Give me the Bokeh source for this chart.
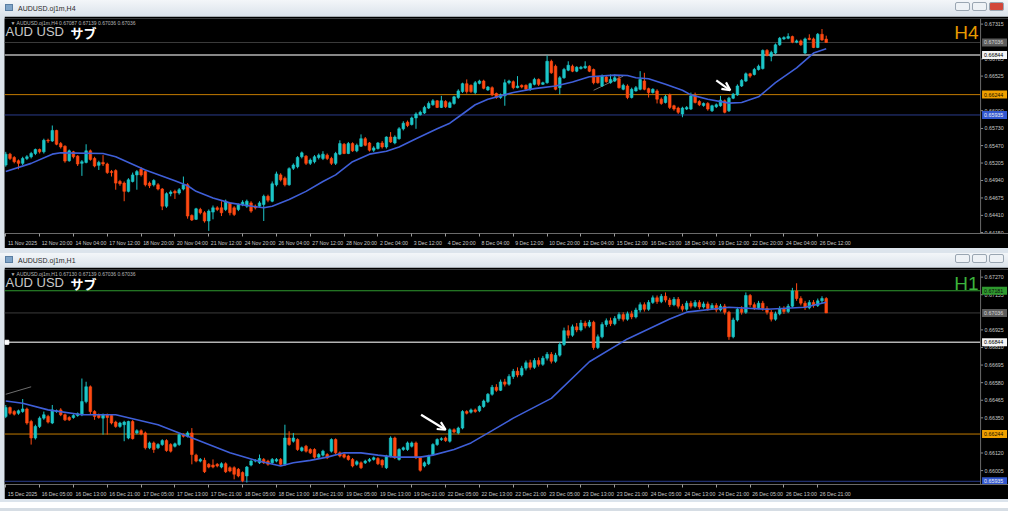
from bokeh.plotting import figure
from bokeh.models import (Range1d, FixedTicker, Span, Label, Arrow, OpenHead,
                          ColumnDataSource, Div)
from bokeh.layouts import column
from bokeh.embed import file_html
from bokeh.resources import INLINE
from bokeh.core.properties import value

# ---------------- H4 data ----------------
h4_open = [
    0.65175, 0.6534, 0.6529, 0.6524, 0.652, 0.65275, 0.653, 0.6535, 0.6541, 0.65375,
    0.6555, 0.6554, 0.657, 0.655, 0.6546, 0.6524, 0.65375, 0.6531, 0.652, 0.65215,
    0.6539, 0.65275, 0.6517, 0.65215, 0.6519, 0.65075, 0.6509, 0.64925, 0.649, 0.64775,
    0.64925, 0.65025, 0.6511, 0.65075, 0.649, 0.64875, 0.64875, 0.6481, 0.6455, 0.6474,
    0.64775, 0.6475, 0.6481, 0.64875, 0.6441, 0.6435, 0.645, 0.6445, 0.64325, 0.6446,
    0.64525, 0.64525, 0.645, 0.646, 0.64525, 0.645, 0.6457, 0.6455, 0.646, 0.6455,
    0.6455, 0.64575, 0.647, 0.64625, 0.64875, 0.65025, 0.64975, 0.64875, 0.65125, 0.6515,
    0.653, 0.6531, 0.652, 0.65225, 0.6529, 0.65275, 0.65325, 0.65275, 0.652, 0.6534,
    0.6549, 0.6535, 0.655, 0.6539, 0.6546, 0.65575, 0.6551, 0.654, 0.65425, 0.6551,
    0.6545, 0.656, 0.6551, 0.65575, 0.65725, 0.65825, 0.6579, 0.6589, 0.6594, 0.65965,
    0.6604, 0.6609, 0.6615, 0.6605, 0.6614, 0.6605, 0.6611, 0.662, 0.6629, 0.6641,
    0.66385, 0.66275, 0.66415, 0.6645, 0.66315, 0.6635, 0.6626, 0.662, 0.66225, 0.66425,
    0.6644, 0.6635, 0.66385, 0.66385, 0.66325, 0.664, 0.66475, 0.664, 0.66425, 0.6675,
    0.66675, 0.6635, 0.665, 0.66615, 0.66675, 0.666, 0.6664, 0.6665, 0.66675, 0.66625,
    0.6651, 0.66375, 0.6651, 0.66425, 0.6645, 0.66485, 0.66325, 0.66375, 0.662, 0.663,
    0.66325, 0.6645, 0.66335, 0.66275, 0.663, 0.66175, 0.66125, 0.6624, 0.66075, 0.6604,
    0.6595, 0.66025, 0.66025, 0.66225, 0.6614, 0.6608, 0.6611, 0.66, 0.6606, 0.66075,
    0.6615, 0.66, 0.6619, 0.6624, 0.66375, 0.6645, 0.6656, 0.6655, 0.66625, 0.6664,
    0.66915, 0.66825, 0.66875, 0.67, 0.6709, 0.671, 0.67125, 0.6704, 0.6706, 0.66875,
    0.671, 0.6709, 0.6696, 0.6716, 0.67087,
]
h4_close = [
    0.6534, 0.65275, 0.65225, 0.652, 0.65275, 0.653, 0.6535, 0.6541, 0.65375, 0.6555,
    0.6554, 0.657, 0.6549, 0.6545, 0.65235, 0.6539, 0.653, 0.6519, 0.65225, 0.6539,
    0.6526, 0.6516, 0.65215, 0.6519, 0.6506, 0.6506, 0.649, 0.6489, 0.64775, 0.6495,
    0.65025, 0.65075, 0.65025, 0.64875, 0.6486, 0.6494, 0.6481, 0.6455, 0.6474, 0.64765,
    0.6475, 0.648, 0.64875, 0.644, 0.6434, 0.6451, 0.6445, 0.64325, 0.64475, 0.64525,
    0.645, 0.6445, 0.64625, 0.6445, 0.64425, 0.6457, 0.6461, 0.64625, 0.64475, 0.64525,
    0.646, 0.647, 0.6464, 0.6489, 0.6504, 0.6495, 0.64875, 0.6512, 0.65175, 0.6529,
    0.6536, 0.652, 0.6525, 0.653, 0.65325, 0.6534, 0.65275, 0.652, 0.6535, 0.655,
    0.6535, 0.655, 0.6539, 0.65475, 0.65575, 0.65475, 0.654, 0.65435, 0.6551, 0.6545,
    0.656, 0.65525, 0.656, 0.65725, 0.6581, 0.65775, 0.6589, 0.6595, 0.65975, 0.6605,
    0.6611, 0.6615, 0.6605, 0.6615, 0.6606, 0.6612, 0.6621, 0.663, 0.6641, 0.6629,
    0.6629, 0.66425, 0.6645, 0.6634, 0.6636, 0.6624, 0.662, 0.6624, 0.66425, 0.6645,
    0.6635, 0.66375, 0.6636, 0.66325, 0.6641, 0.66475, 0.664, 0.66425, 0.6675, 0.66575,
    0.66325, 0.665, 0.66625, 0.6669, 0.666, 0.6666, 0.6666, 0.66675, 0.666, 0.66425,
    0.66425, 0.66525, 0.6644, 0.66475, 0.665, 0.6635, 0.66385, 0.662, 0.66325, 0.6635,
    0.66475, 0.66325, 0.66275, 0.66325, 0.66175, 0.6611, 0.66215, 0.6605, 0.66025, 0.65975,
    0.6604, 0.6605, 0.66225, 0.66125, 0.6609, 0.6611, 0.66025, 0.66075, 0.6609, 0.6616,
    0.65975, 0.6619, 0.6625, 0.66375, 0.6646, 0.6656, 0.66525, 0.66625, 0.66675, 0.66915,
    0.6684, 0.66885, 0.67, 0.671, 0.6711, 0.67125, 0.6704, 0.6706, 0.67, 0.6709,
    0.6708, 0.6696, 0.6716, 0.67075, 0.67036,
]
h4_high = [
    0.65375, 0.6536, 0.6531, 0.6526, 0.653, 0.65325, 0.65375, 0.65425, 0.65425, 0.65575,
    0.65575, 0.65775, 0.6571, 0.65525, 0.65475, 0.6541, 0.6539, 0.65325, 0.6525, 0.6549,
    0.6541, 0.653, 0.6524, 0.65325, 0.6521, 0.651, 0.6511, 0.6495, 0.64925, 0.64975,
    0.6506, 0.651, 0.6514, 0.6509, 0.64925, 0.6496, 0.649, 0.64825, 0.6476, 0.6479,
    0.648, 0.64825, 0.65, 0.649, 0.64425, 0.64525, 0.64525, 0.64475, 0.645, 0.6456,
    0.6455, 0.64625, 0.6465, 0.6461, 0.6455, 0.6459, 0.6464, 0.6465, 0.64625, 0.64575,
    0.64625, 0.64725, 0.64725, 0.64925, 0.65075, 0.6505, 0.65, 0.6514, 0.652, 0.6531,
    0.6538, 0.65325, 0.65275, 0.65325, 0.6535, 0.65385, 0.6535, 0.653, 0.65375, 0.6555,
    0.6551, 0.65525, 0.6552, 0.655, 0.6564, 0.656, 0.65525, 0.6546, 0.65525, 0.6554,
    0.6561, 0.65675, 0.65625, 0.6575, 0.6584, 0.6585, 0.6591, 0.65975, 0.66, 0.66075,
    0.6614, 0.66175, 0.6616, 0.66225, 0.6616, 0.6614, 0.66225, 0.66325, 0.66425, 0.66475,
    0.664, 0.6645, 0.6647, 0.6647, 0.66375, 0.6637, 0.66275, 0.6626, 0.66475, 0.6647,
    0.6646, 0.66525, 0.664, 0.664, 0.66425, 0.665, 0.6649, 0.6644, 0.6684, 0.66775,
    0.667, 0.66525, 0.6665, 0.6675, 0.667, 0.66675, 0.6668, 0.6675, 0.6669, 0.6664,
    0.66525, 0.6655, 0.66525, 0.6655, 0.6655, 0.6654, 0.6641, 0.664, 0.6635, 0.66375,
    0.666, 0.66575, 0.6635, 0.6634, 0.66325, 0.662, 0.6624, 0.6626, 0.6609, 0.6606,
    0.6606, 0.6607, 0.66275, 0.66275, 0.6616, 0.66125, 0.6613, 0.6609, 0.6611, 0.66225,
    0.6617, 0.6621, 0.6627, 0.664, 0.6648, 0.6658, 0.66575, 0.6665, 0.667, 0.6693,
    0.66935, 0.6691, 0.6702, 0.6712, 0.6713, 0.67175, 0.6714, 0.6708, 0.6708, 0.6711,
    0.6716, 0.6711, 0.6718, 0.6724, 0.67139,
]
h4_low = [
    0.6515, 0.6525, 0.652, 0.6511, 0.65175, 0.6525, 0.65275, 0.65325, 0.6535, 0.6535,
    0.6551, 0.65525, 0.65475, 0.65425, 0.6521, 0.65225, 0.65275, 0.6516, 0.6501, 0.652,
    0.6524, 0.6514, 0.651, 0.6516, 0.6504, 0.65, 0.648, 0.6486, 0.64625, 0.6476,
    0.6491, 0.648, 0.65, 0.6485, 0.64825, 0.6485, 0.6479, 0.6449, 0.64525, 0.647,
    0.6466, 0.64725, 0.6479, 0.6436, 0.64325, 0.6434, 0.64425, 0.643, 0.64175, 0.6435,
    0.64475, 0.644, 0.64475, 0.6441, 0.644, 0.64475, 0.6455, 0.64525, 0.6445, 0.645,
    0.64525, 0.64325, 0.6461, 0.6461, 0.6485, 0.64925, 0.6485, 0.6486, 0.651, 0.65125,
    0.65275, 0.65175, 0.65175, 0.652, 0.6526, 0.6525, 0.6525, 0.65175, 0.65175, 0.65325,
    0.6534, 0.6534, 0.65375, 0.6537, 0.6545, 0.6546, 0.6538, 0.65375, 0.6541, 0.65425,
    0.65425, 0.6551, 0.6549, 0.6556, 0.657, 0.6575, 0.65775, 0.65725, 0.65925, 0.6595,
    0.66025, 0.66075, 0.6604, 0.6604, 0.6604, 0.6604, 0.6609, 0.6618, 0.6627, 0.6626,
    0.6627, 0.6625, 0.664, 0.66325, 0.663, 0.6622, 0.6618, 0.6618, 0.66075, 0.664,
    0.66325, 0.6634, 0.6634, 0.6631, 0.663, 0.66385, 0.66375, 0.6639, 0.6641, 0.6656,
    0.6631, 0.6625, 0.66485, 0.666, 0.66585, 0.66585, 0.66625, 0.66635, 0.66585, 0.664,
    0.6641, 0.6636, 0.66425, 0.6641, 0.66435, 0.66335, 0.6631, 0.66175, 0.66185, 0.6629,
    0.6631, 0.6631, 0.662, 0.6626, 0.6611, 0.6609, 0.6611, 0.66025, 0.66, 0.6595,
    0.659, 0.6601, 0.6601, 0.6611, 0.6607, 0.6606, 0.66, 0.6598, 0.6604, 0.6606,
    0.6596, 0.6598, 0.66175, 0.66225, 0.6636, 0.66435, 0.665, 0.66535, 0.6661, 0.66625,
    0.66825, 0.6675, 0.6686, 0.66985, 0.67075, 0.67085, 0.67025, 0.67025, 0.66985, 0.6686,
    0.6707, 0.6695, 0.6695, 0.6706, 0.67036,
]
h4_ma_bar = [0, 6, 11, 13, 23, 26, 33, 40, 43, 45, 49, 53, 57, 61, 63, 67, 71, 75, 78, 82,
             86, 90, 93, 97, 102, 105, 108, 111, 114, 117, 120, 125, 130, 134, 138, 144, 147, 149, 152, 156,
             160, 162, 166, 171, 174, 178, 182, 187, 191, 194]
h4_ma = [0.65075, 0.6520, 0.6534, 0.6536, 0.6535, 0.6530, 0.6510, 0.64935, 0.6486, 0.64775,
         0.64675, 0.6460, 0.6456, 0.64525, 0.6455, 0.6465, 0.64775, 0.64925, 0.65025, 0.65225,
         0.6534, 0.65385, 0.6545, 0.65575, 0.65725, 0.6581, 0.6595, 0.6609, 0.66175, 0.66225,
         0.66275, 0.66335, 0.66375, 0.66435, 0.66515, 0.6654, 0.66535, 0.665, 0.66485, 0.664,
         0.6631, 0.6624, 0.66175, 0.66115, 0.66125, 0.6621, 0.66425, 0.6665, 0.66875, 0.6694]
h4_time_labels = ["11 Nov 2025", "12 Nov 20:00", "14 Nov 04:00", "17 Nov 12:00", "18 Nov 20:00",
                  "20 Nov 04:00", "21 Nov 12:00", "24 Nov 20:00", "26 Nov 04:00", "27 Nov 12:00",
                  "28 Nov 20:00", "2 Dec 04:00", "3 Dec 12:00", "4 Dec 20:00", "8 Dec 04:00",
                  "9 Dec 12:00", "10 Dec 20:00", "12 Dec 04:00", "15 Dec 12:00", "16 Dec 20:00",
                  "18 Dec 04:00", "19 Dec 12:00", "22 Dec 20:00", "24 Dec 04:00", "26 Dec 12:00"]
h4_price_ticks = [0.67315, 0.66785, 0.66525, 0.66000, 0.65730, 0.65470, 0.65205, 0.64940,
                  0.64675, 0.64410, 0.64150]
h4_levels = [0.67036, 0.66844, 0.66244, 0.65935]
h4_trend_bar = [139, 146]
h4_trend_price = [0.6631, 0.66525]
h4_arrow_bar = [168.0, 171.3]
h4_arrow_price = [0.6646, 0.6631]
h4_header = "\u25bc AUDUSD.oj1m,H4  0.67087 0.67139 0.67036 0.67036"

# ---------------- H1 data ----------------
h1_open = [
    0.66359, 0.66417, 0.66391, 0.6638, 0.66391, 0.66408, 0.66326, 0.66218, 0.66294, 0.66348,
    0.66359, 0.66316, 0.66391, 0.66402, 0.6637, 0.66352, 0.66352, 0.66365, 0.6637, 0.66456,
    0.66553, 0.66391, 0.6637, 0.66348, 0.6637, 0.66365, 0.66322, 0.66294, 0.66305, 0.66218,
    0.66326, 0.66251, 0.66266, 0.66251, 0.66154, 0.66186, 0.66154, 0.66175, 0.66201, 0.66175,
    0.66164, 0.66175, 0.6624, 0.66229, 0.66251, 0.66106, 0.66067, 0.66072, 0.66046, 0.66041,
    0.66046, 0.66028, 0.6605, 0.66024, 0.66024, 0.66013, 0.65992, 0.6597, 0.66041, 0.66067,
    0.66056, 0.66078, 0.66067, 0.66056, 0.66067, 0.66078, 0.66046, 0.66218, 0.66197, 0.66208,
    0.66136, 0.66164, 0.66143, 0.66143, 0.66093, 0.66106, 0.6611, 0.66132, 0.66208, 0.66121,
    0.6611, 0.661, 0.66078, 0.66046, 0.66056, 0.66056, 0.66067, 0.66078, 0.66084, 0.66072,
    0.66024, 0.661, 0.66218, 0.66078, 0.66143, 0.66143, 0.66164, 0.66186, 0.66089, 0.66035,
    0.6605, 0.6611, 0.66175, 0.66208, 0.66218, 0.66197, 0.66272, 0.66251, 0.66283, 0.66391,
    0.66387, 0.66402, 0.66396, 0.66424, 0.66456, 0.66504, 0.6655, 0.6653, 0.66585, 0.6657,
    0.6662, 0.66655, 0.6663, 0.66675, 0.6671, 0.6668, 0.66725, 0.667, 0.6674, 0.66765,
    0.6672, 0.6676, 0.6683, 0.6692, 0.6689, 0.66945, 0.66925, 0.6697, 0.6695, 0.66975,
    0.6681, 0.6688, 0.6696, 0.66985, 0.66965, 0.67, 0.67025, 0.66995, 0.6703, 0.6701,
    0.67055, 0.6709, 0.6706, 0.67105, 0.67135, 0.6711, 0.67145, 0.6712, 0.6709, 0.67125,
    0.6708, 0.6706, 0.671, 0.6708, 0.67105, 0.67075, 0.67095, 0.67065, 0.67085, 0.67055,
    0.6708, 0.6704, 0.6688, 0.6699, 0.6706, 0.6704, 0.6715, 0.6709, 0.6707, 0.671,
    0.67065, 0.6704, 0.66995, 0.6703, 0.67065, 0.67045, 0.6708, 0.6718, 0.6713, 0.671,
    0.6707, 0.67105, 0.67085, 0.67115, 0.6713,
]
h1_close = [
    0.66417, 0.6638, 0.66374, 0.66396, 0.66408, 0.66316, 0.66218, 0.66294, 0.66348, 0.6637,
    0.66322, 0.66402, 0.66396, 0.6637, 0.66337, 0.66337, 0.66365, 0.66376, 0.66456, 0.66553,
    0.66391, 0.66359, 0.66352, 0.6637, 0.66352, 0.66316, 0.66294, 0.66316, 0.66322, 0.66326,
    0.66214, 0.66266, 0.66244, 0.66154, 0.66186, 0.66143, 0.66175, 0.66201, 0.66136, 0.66132,
    0.6618, 0.6624, 0.66229, 0.66251, 0.6611, 0.66067, 0.66078, 0.65998, 0.66028, 0.66028,
    0.66035, 0.6605, 0.65998, 0.66002, 0.65981, 0.6597, 0.65938, 0.66028, 0.66067, 0.66072,
    0.66084, 0.66056, 0.66046, 0.66078, 0.66078, 0.66046, 0.66218, 0.66175, 0.66218, 0.66143,
    0.66154, 0.66132, 0.66121, 0.66093, 0.6611, 0.66132, 0.66089, 0.66208, 0.66121, 0.661,
    0.66093, 0.66078, 0.66035, 0.66063, 0.66024, 0.66067, 0.66078, 0.66089, 0.6605, 0.66041,
    0.661, 0.66218, 0.66089, 0.66143, 0.66154, 0.66186, 0.66186, 0.66089, 0.66007, 0.66056,
    0.661, 0.66175, 0.66208, 0.66214, 0.66201, 0.66272, 0.66257, 0.66283, 0.66391, 0.6638,
    0.66402, 0.66391, 0.66424, 0.6646, 0.66504, 0.6655, 0.6653, 0.66585, 0.6657, 0.6662,
    0.66655, 0.6663, 0.66675, 0.6671, 0.6668, 0.66725, 0.667, 0.6674, 0.66765, 0.6672,
    0.6676, 0.6683, 0.6692, 0.6689, 0.66945, 0.66925, 0.6697, 0.6695, 0.66975, 0.6681,
    0.6688, 0.6696, 0.66985, 0.66965, 0.67, 0.67025, 0.66995, 0.6703, 0.6701, 0.67055,
    0.6709, 0.6706, 0.67105, 0.67135, 0.6711, 0.67145, 0.6712, 0.6709, 0.67125, 0.6708,
    0.6706, 0.671, 0.6708, 0.67105, 0.67075, 0.67095, 0.67065, 0.67085, 0.67055, 0.6708,
    0.6704, 0.6688, 0.6699, 0.6706, 0.6704, 0.6715, 0.6709, 0.6707, 0.671, 0.67065,
    0.6704, 0.66995, 0.6703, 0.67065, 0.67045, 0.6708, 0.6718, 0.6713, 0.671, 0.6707,
    0.67105, 0.67085, 0.67115, 0.6713, 0.67036,
]
h1_high = [
    0.66434, 0.66424, 0.664, 0.66404, 0.66473, 0.66417, 0.66337, 0.66305, 0.66359, 0.66391,
    0.6637, 0.66434, 0.66404, 0.66413, 0.66378, 0.66361, 0.66374, 0.66385, 0.66607, 0.66586,
    0.66562, 0.664, 0.66378, 0.66378, 0.66378, 0.66374, 0.66331, 0.66324, 0.66331, 0.66331,
    0.66335, 0.66275, 0.66275, 0.6626, 0.66195, 0.66195, 0.66184, 0.6621, 0.6621, 0.66184,
    0.66188, 0.66249, 0.66249, 0.66262, 0.66283, 0.66115, 0.66087, 0.66089, 0.66054, 0.66078,
    0.66054, 0.66059, 0.66059, 0.66033, 0.66033, 0.66022, 0.66, 0.66035, 0.66076, 0.6608,
    0.6611, 0.66087, 0.66076, 0.66087, 0.66087, 0.66087, 0.66305, 0.66262, 0.66251, 0.66216,
    0.66162, 0.66173, 0.66151, 0.66151, 0.66119, 0.66141, 0.66119, 0.66216, 0.66216, 0.6613,
    0.66119, 0.66108, 0.66087, 0.66072, 0.66065, 0.66076, 0.66087, 0.66097, 0.66093, 0.6608,
    0.66108, 0.66229, 0.66227, 0.66151, 0.66162, 0.66195, 0.66195, 0.66195, 0.66097, 0.66065,
    0.66108, 0.66184, 0.66216, 0.66223, 0.66227, 0.66281, 0.66281, 0.66292, 0.664, 0.664,
    0.66411, 0.66411, 0.66432, 0.66469, 0.66512, 0.66565, 0.6657, 0.666, 0.66605, 0.66635,
    0.6667, 0.6668, 0.6669, 0.66725, 0.6673, 0.6674, 0.66745, 0.66755, 0.6678, 0.6678,
    0.66775, 0.66845, 0.6694, 0.66955, 0.6696, 0.6697, 0.6699, 0.66985, 0.6699, 0.66985,
    0.66895, 0.66975, 0.67, 0.67005, 0.67015, 0.6704, 0.6704, 0.67045, 0.6705, 0.6707,
    0.67105, 0.67105, 0.6712, 0.6715, 0.6715, 0.6716, 0.6717, 0.67135, 0.6714, 0.6714,
    0.67095, 0.67115, 0.67115, 0.6712, 0.6712, 0.6711, 0.6711, 0.671, 0.671, 0.67095,
    0.67095, 0.6705, 0.67005, 0.67075, 0.6708, 0.6717, 0.6716, 0.67105, 0.67115, 0.67115,
    0.6708, 0.67055, 0.67045, 0.6708, 0.6708, 0.67095, 0.672, 0.6723, 0.67145, 0.67115,
    0.6712, 0.6712, 0.6713, 0.67145, 0.67139,
]
h1_low = [
    0.66348, 0.6637, 0.66365, 0.6637, 0.66383, 0.66305, 0.66175, 0.66208, 0.66283, 0.66337,
    0.66313, 0.66309, 0.66383, 0.66361, 0.66329, 0.66329, 0.66344, 0.66357, 0.66361, 0.66445,
    0.6637, 0.66337, 0.66344, 0.6624, 0.6624, 0.66307, 0.66285, 0.66285, 0.66197, 0.6621,
    0.66208, 0.66242, 0.66236, 0.66143, 0.66145, 0.66121, 0.66145, 0.66167, 0.66128, 0.66123,
    0.66156, 0.66167, 0.66221, 0.66221, 0.66046, 0.66059, 0.66059, 0.65989, 0.6602, 0.6602,
    0.66026, 0.6602, 0.65989, 0.65994, 0.65948, 0.65961, 0.65929, 0.65927, 0.66033, 0.66059,
    0.66048, 0.66048, 0.66037, 0.66048, 0.66059, 0.66037, 0.66035, 0.66167, 0.66188, 0.66134,
    0.66128, 0.66123, 0.66113, 0.66084, 0.66084, 0.66097, 0.6608, 0.66123, 0.66113, 0.66091,
    0.66084, 0.6607, 0.66026, 0.66037, 0.66015, 0.66048, 0.66059, 0.6607, 0.66041, 0.66024,
    0.66015, 0.66091, 0.6608, 0.6607, 0.66134, 0.66134, 0.66156, 0.6608, 0.65998, 0.66026,
    0.66041, 0.66102, 0.66167, 0.66199, 0.66193, 0.66188, 0.66249, 0.66242, 0.66275, 0.66372,
    0.66378, 0.66383, 0.66387, 0.66415, 0.66447, 0.66495, 0.6652, 0.66525, 0.66555, 0.6656,
    0.66605, 0.66615, 0.6662, 0.6666, 0.66665, 0.6667, 0.66685, 0.6669, 0.66725, 0.66705,
    0.6671, 0.6675, 0.6682, 0.6687, 0.6688, 0.6691, 0.66915, 0.66935, 0.6694, 0.66795,
    0.668, 0.6687, 0.66945, 0.6695, 0.66955, 0.66985, 0.6698, 0.66985, 0.66995, 0.67,
    0.6704, 0.67045, 0.6705, 0.67095, 0.67095, 0.671, 0.67105, 0.67075, 0.6708, 0.67065,
    0.67045, 0.6705, 0.67065, 0.6707, 0.6706, 0.67065, 0.6705, 0.67055, 0.6704, 0.67045,
    0.67025, 0.6686, 0.6687, 0.6698, 0.67025, 0.6703, 0.67075, 0.67055, 0.6706, 0.6705,
    0.67025, 0.6698, 0.66985, 0.6702, 0.6703, 0.67035, 0.6707, 0.67115, 0.67085, 0.67055,
    0.6706, 0.6707, 0.67075, 0.671, 0.67036,
]
h1_ma_bar = [0, 4, 10, 18, 26, 36, 41, 45, 53, 59, 65, 68, 72, 76, 80, 84, 88, 92, 98, 101,
             106, 110, 115, 120, 129, 138, 147, 157, 161, 171, 180, 189, 194]
h1_ma = [0.6646, 0.66445, 0.66402, 0.6637, 0.6637, 0.66305, 0.66251, 0.66208, 0.66121, 0.66072,
         0.66035, 0.66056, 0.66072, 0.66093, 0.66121, 0.66121, 0.66106, 0.66093, 0.66093, 0.66106,
         0.66143, 0.66186, 0.66266, 0.66348, 0.66477, 0.66717, 0.66866, 0.66996, 0.67041, 0.67073,
         0.6706, 0.67073, 0.67106]
h1_time_labels = ["15 Dec 2025", "16 Dec 05:00", "16 Dec 13:00", "16 Dec 21:00", "17 Dec 05:00",
                  "17 Dec 13:00", "17 Dec 21:00", "18 Dec 05:00", "18 Dec 13:00", "18 Dec 21:00",
                  "19 Dec 05:00", "19 Dec 13:00", "19 Dec 21:00", "22 Dec 05:00", "22 Dec 13:00",
                  "22 Dec 21:00", "23 Dec 05:00", "23 Dec 13:00", "23 Dec 21:00", "24 Dec 05:00",
                  "24 Dec 13:00", "24 Dec 21:00", "26 Dec 05:00", "26 Dec 13:00", "26 Dec 21:00"]
h1_price_ticks = [0.67270, 0.67155, 0.66925, 0.66810, 0.66695, 0.66580, 0.66465, 0.66350,
                  0.66120, 0.66005]
h1_levels = [0.67181, 0.67036, 0.66844, 0.66244, 0.65935]
h1_selected_level = [0.66844]
h1_trend_bar = [0, 6]
h1_trend_price = [0.66504, 0.66553]
h1_arrow_bar = [98.2, 104.0]
h1_arrow_price = [0.6637, 0.66272]
h1_header = "\u25bc AUDUSD.oj1m,H1  0.67130 0.67139 0.67036 0.67036"

# ---------------- styling ----------------
BULL = "#1cc6c8"
BEAR = "#ff4912"
MA_COLOR = "#3f5fd8"
LEVEL_STYLE = {   # line colour, line width, box fill, box text
    0.67181: ("#2f9a2f", 1.0, "#2f9a2f", "#0a0a0a"),
    0.67036: ("#3c3c3c", 1.0, "#5c5c5c", "#d8d8d8"),
    0.66844: ("#b4b4b4", 1.5, "#f4f4f4", "#000000"),
    0.66244: ("#c27a00", 1.0, "#f0a000", "#1a1000"),
    0.65935: ("#2a3c8c", 1.0, "#3258d0", "#f0f0f0"),
}
FONT = "Liberation Sans"
CHROME = "#dce4ec"
W = 1008
X0 = -0.3          # left edge of the chart area (bars)
CHART_END = 230.5  # right edge of the chart area (bars)
SCALE_END = 237.1  # right edge of the price-scale strip (bars)
PX_PER_BAR = (W - 4) / (SCALE_END - X0)
GRID = "#6a6a6a"
TIME_FS = 5.2
CHAR_EM = {" ": 0.278, ":": 0.278, "N": 0.722, "D": 0.722, "o": 0.556, "v": 0.5,
           "e": 0.556, "c": 0.5}


def label_half_width_bars(s):
    w = sum(CHAR_EM.get(ch, 0.556) for ch in s) * TIME_FS
    return (w / 2 + 2.0) / PX_PER_BAR


def make_chart(o, h, l, c, ma_bar, ma_val, labels, pticks, levels, trend_b, trend_p,
               arrow_b, arrow_p, header, tf_text, tf_color, y0, y1, height, selected=()):
    n = len(c)
    colors = [BULL if cc >= oo else BEAR for oo, cc in zip(o, c)]
    src = ColumnDataSource(dict(x=list(range(n)), h=h, l=l, color=colors,
                                top=[max(a, b) for a, b in zip(o, c)],
                                bottom=[min(a, b) for a, b in zip(o, c)]))
    p = figure(width=W - 4, height=height, x_range=Range1d(X0, SCALE_END),
               y_range=Range1d(y0, y1), output_backend="svg", toolbar_location=None,
               y_axis_location=None, background_fill_color="black",
               border_fill_color="black", outline_line_color=None,
               min_border=0, min_border_top=2, margin=(0, 0, 0, 4))
    p.grid.visible = False

    # time axis: tick marks at the bar (minor ticks), labels set just to their right
    tick_bars = [8 * i for i in range(len(labels))]
    label_pos = [b + label_half_width_bars(s) for b, s in zip(tick_bars, labels)]
    xa = p.xaxis[0]
    xa.ticker = FixedTicker(ticks=label_pos, minor_ticks=tick_bars)
    xa.major_label_overrides = {pos: s for pos, s in zip(label_pos, labels)}
    xa.axis_line_color = GRID
    xa.major_tick_line_color = None
    xa.major_tick_in = 0
    xa.major_tick_out = 0
    xa.minor_tick_line_color = "#9a9a9a"
    xa.minor_tick_in = 0
    xa.minor_tick_out = 3
    xa.major_label_text_color = "#c8c8c8"
    xa.major_label_text_font = FONT
    xa.major_label_text_font_size = f"{TIME_FS}px"
    xa.major_label_standoff = 3

    # chart border on the right, price scale strip beyond it
    p.add_layout(Span(location=CHART_END, dimension="height", line_color=GRID, line_width=1))
    nt = len(pticks)
    p.segment(x0=[CHART_END] * nt, x1=[CHART_END + 0.6] * nt, y0=pticks, y1=pticks,
              line_color="#8a8a8a", line_width=1)
    p.text(x=[CHART_END] * nt, y=pticks, text=[f"{t:.5f}" for t in pticks], x_offset=4,
           text_font=value(FONT), text_font_size=value("5.3px"), text_color="#c8c8c8",
           text_baseline="middle", text_align="left")

    # level lines
    nl = len(levels)
    p.segment(x0=[X0] * nl, x1=[CHART_END] * nl, y0=levels, y1=levels,
              line_color=[LEVEL_STYLE[v][0] for v in levels],
              line_width=[LEVEL_STYLE[v][1] for v in levels])
    if selected:
        p.scatter(x=[X0 + 0.55] * len(selected), y=list(selected), marker="square", size=4,
                  fill_color="white", line_color="white")

    # manual trend line
    p.line(trend_b, trend_p, line_color="#6e6e6e", line_width=1)

    # candles
    p.segment(x0="x", y0="h", x1="x", y1="l", line_color="color", line_width=1, source=src)
    p.vbar(x="x", width=0.62, top="top", bottom="bottom", fill_color="color",
           line_color="color", line_width=0.6, source=src)

    # moving average
    p.line(ma_bar, ma_val, line_color=MA_COLOR, line_width=1.6)

    # arrow
    p.add_layout(Arrow(x_start=arrow_b[0], y_start=arrow_p[0], x_end=arrow_b[1], y_end=arrow_p[1],
                       line_color="white", line_width=2.2,
                       end=OpenHead(size=8, line_color="white", line_width=2.2)))

    # price boxes on the scale strip
    box_w = SCALE_END - CHART_END - 0.7
    p.rect(x=[CHART_END + 0.35 + box_w / 2] * nl, y=levels, width=box_w, height=8,
           height_units="screen", fill_color=[LEVEL_STYLE[v][2] for v in levels],
           line_color=None)
    p.text(x=[CHART_END + 0.35] * nl, y=levels, text=[f"{v:.5f}" for v in levels], x_offset=2,
           text_font=value(FONT), text_font_size=value("5.3px"),
           text_color=[LEVEL_STYLE[v][3] for v in levels],
           text_baseline="middle", text_align="left")

    # texts
    p.add_layout(Label(x=X0, y=y1, x_offset=6, y_offset=-1, text=header, text_font=FONT,
                       text_font_size="5px", text_color="#b8b8b8", text_baseline="top"))
    p.add_layout(Label(x=X0, y=y1, x_offset=1, y_offset=-5, text="AUD USD", text_font=FONT,
                       text_font_size="13px", text_color="#c8c8c8", text_baseline="top"))
    p.add_layout(Label(x=X0, y=y1, x_offset=66, y_offset=-4, text="サブ",
                       text_font="Noto Sans CJK JP", text_font_style="bold",
                       text_font_size="13px", text_color="#ffffff", text_baseline="top"))
    p.add_layout(Label(x=CHART_END, y=y1, x_offset=-2, y_offset=-3, text=tf_text, text_font=FONT,
                       text_font_size="19px", text_color=tf_color, text_baseline="top",
                       text_align="right"))
    return p


def title_bar(text, height, close_color):
    btn = ('<span style="display:inline-block;width:15px;height:9px;margin-left:2px;'
           'border:1px solid #9aa6b2;border-radius:2px;background:{bg};"></span>')
    buttons = btn.format(bg="#eef2f6") + btn.format(bg="#eef2f6") + btn.format(bg=close_color)
    html = (f'<div style="position:relative;width:{W}px;height:{height}px;'
            f'background:linear-gradient(#f3f6f9,#dbe3eb);font-family:\'{FONT}\';'
            f'font-size:7px;color:#2a2a2a;">'
            f'<span style="position:absolute;left:5px;top:{(height - 8) // 2}px;width:8px;height:7px;'
            f'background:#7fa4c8;border:1px solid #5a7ea2;"></span>'
            f'<span style="position:absolute;left:18px;top:{(height - 8) // 2}px;">{text}</span>'
            f'<span style="position:absolute;right:4px;top:{(height - 11) // 2}px;">{buttons}</span>'
            f'</div>')
    return Div(text=html, width=W, height=height, margin=0)


sep_html = (f'<div style="width:{W}px;height:5px;background:#cfd8e2;">'
            f'<div style="height:1px;background:#9aa4ae;"></div>'
            f'<div style="height:1px;background:#dfe6ee;"></div>'
            f'<div style="height:2px;background:#2f6f8f;"></div></div>')
status_html = f'<div style="width:{W}px;height:3px;background:#d6dde4;"></div>'

h4 = make_chart(h4_open, h4_high, h4_low, h4_close, h4_ma_bar, h4_ma, h4_time_labels,
                h4_price_ticks, h4_levels, h4_trend_bar, h4_trend_price, h4_arrow_bar,
                h4_arrow_price, h4_header, "H4", "#e89a00", 0.64135, 0.67400, 232)
h1 = make_chart(h1_open, h1_high, h1_low, h1_close, h1_ma_bar, h1_ma, h1_time_labels,
                h1_price_ticks, h1_levels, h1_trend_bar, h1_trend_price, h1_arrow_bar,
                h1_arrow_price, h1_header, "H1", "#3cb43c", 0.65914, 0.67320, 232,
                selected=h1_selected_level)

layout = column(
    title_bar("AUDUSD.oj1m,H4", 16, "#d2473a"),
    h4,
    Div(text=sep_html, width=W, height=5, margin=0),
    title_bar("AUDUSD.oj1m,H1", 14, "#eef2f6"),
    h1,
    Div(text=status_html, width=W, height=3, margin=0),
    spacing=0, styles={"background-color": CHROME}, width=W,
)

open("out.html", "w").write(file_html(layout, INLINE))
